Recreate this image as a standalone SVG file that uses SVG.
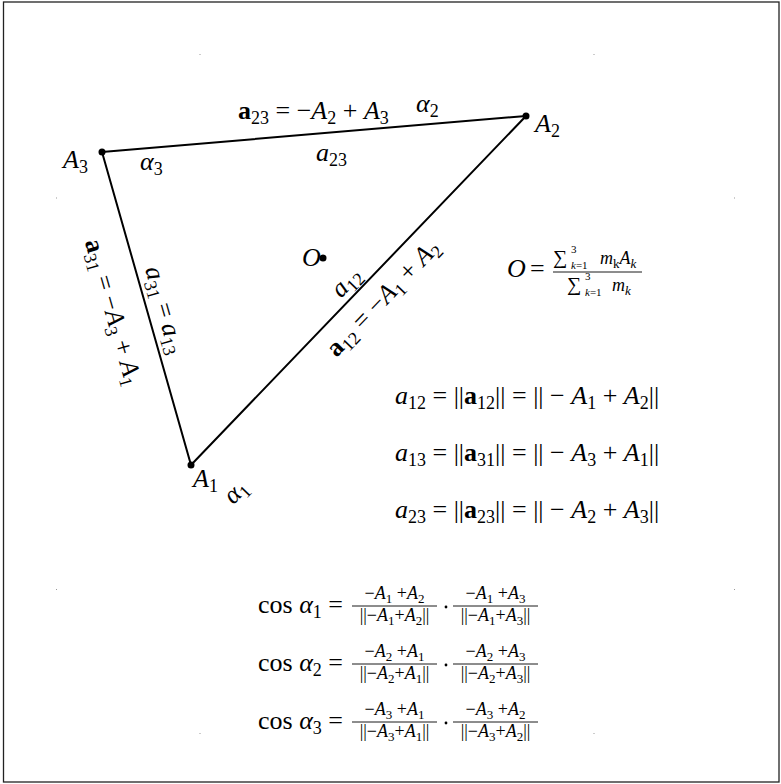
<svg xmlns="http://www.w3.org/2000/svg" width="781" height="784" viewBox="0 0 781 784">
<style>
text{font-family:"Liberation Serif","Times New Roman",serif;fill:#000;white-space:pre}
.m{font-size:26px}
.f{font-size:18px}
.i{font-style:italic}
.b{font-weight:bold}
.n{font-style:normal;font-weight:normal}
.edge{stroke:#000;stroke-width:2;fill:none;stroke-linecap:round}
.bar{stroke:#000;stroke-width:0.9}
.tick{fill:#999}
</style>
<rect x="3.5" y="2" width="775.5" height="780" fill="#fff" stroke="#222" stroke-width="1.3"/>
<g id="ticks" class="tick">
<rect x="199.5" y="54" width="1" height="1"/><rect x="593.5" y="54" width="1" height="1"/>
<rect x="56" y="197.5" width="1" height="1"/><rect x="734" y="197.5" width="1" height="1"/>
<rect x="56" y="589" width="1" height="1"/><rect x="734" y="589" width="1" height="1"/>
<rect x="199.5" y="733" width="1" height="1"/><rect x="593.5" y="733" width="1" height="1"/>
</g>
<g id="connectors">
<line class="edge" x1="102" y1="152" x2="526" y2="116"/>
<line class="edge" x1="526" y1="116" x2="191" y2="465"/>
<line class="edge" x1="191" y1="465" x2="102" y2="152"/>
<text class="m" x="238" y="119"><tspan class="b">a</tspan><tspan font-size="18" dy="5">23</tspan><tspan dy="-5"> = −</tspan><tspan class="i">A</tspan><tspan font-size="18" dy="5">2</tspan><tspan dy="-5"> + </tspan><tspan class="i">A</tspan><tspan font-size="18" dy="5">3</tspan></text>
<text class="m" x="316" y="161"><tspan class="i">a</tspan><tspan font-size="18" dy="5">23</tspan></text>
<text class="m" text-anchor="middle" transform="translate(113,312) rotate(74.1)" y="8"><tspan class="b">a</tspan><tspan font-size="18" dy="5">31</tspan><tspan dy="-5"> = −</tspan><tspan class="i">A</tspan><tspan font-size="18" dy="5">3</tspan><tspan dy="-5"> + </tspan><tspan class="i">A</tspan><tspan font-size="18" dy="5">1</tspan></text>
<text class="m" text-anchor="middle" transform="translate(165,310) rotate(74.1)" y="8"><tspan class="i">a</tspan><tspan font-size="18" dy="5">31</tspan><tspan dy="-5"> = </tspan><tspan class="i">a</tspan><tspan font-size="18" dy="5">13</tspan></text>
<text class="m" text-anchor="middle" transform="translate(346,282) rotate(-46.2)" y="8"><tspan class="i">a</tspan><tspan font-size="18" dy="5">12</tspan></text>
<text class="m" text-anchor="middle" transform="translate(383,298) rotate(-46.2)" y="8"><tspan class="b">a</tspan><tspan font-size="18" dy="5">12</tspan><tspan dy="-5"> = −</tspan><tspan class="i">A</tspan><tspan font-size="18" dy="5">1</tspan><tspan dy="-5"> + </tspan><tspan class="i">A</tspan><tspan font-size="18" dy="5">2</tspan></text>
</g>
<g id="A3">
<circle cx="102" cy="152" r="3.5"/>
<text class="m i" x="63" y="168">A<tspan class="n" font-size="18" dy="5">3</tspan></text>
<text class="m i" x="140" y="170">α<tspan class="n" font-size="18" dy="5">3</tspan></text>
</g>
<g id="A2">
<circle cx="526" cy="116" r="3.5"/>
<text class="m i" x="535" y="132">A<tspan class="n" font-size="18" dy="5">2</tspan></text>
<text class="m i" x="416" y="112">α<tspan class="n" font-size="18" dy="5">2</tspan></text>
</g>
<g id="A1">
<circle cx="191" cy="465" r="3.5"/>
<text class="m i" x="193" y="487">A<tspan class="n" font-size="18" dy="5">1</tspan></text>
<text class="m i" text-anchor="middle" transform="translate(237,493) rotate(-46.2)" y="6">α<tspan class="n" font-size="18" dy="5">1</tspan></text>
</g>
<g id="O">
<circle cx="323" cy="258" r="3.5"/>
<text class="m i" x="302" y="266">O</text>
</g>
<g id="formula-O">
<text class="m i" x="507" y="277">O</text>
<text class="m" x="530" y="277">=</text>
<text x="553" y="264" font-size="20">∑</text>
<text x="571" y="253" font-size="11">3</text>
<text x="571" y="269" font-size="11"><tspan class="i">k</tspan>=1</text>
<text class="f i" x="600" y="264">m<tspan class="n" font-size="13" dy="4">k</tspan><tspan dy="-4">A</tspan><tspan font-size="13" dy="4">k</tspan></text>
<line class="bar" x1="553" y1="272" x2="642" y2="272"/>
<text x="567" y="291" font-size="20">∑</text>
<text x="585" y="280" font-size="11">3</text>
<text x="585" y="296" font-size="11"><tspan class="i">k</tspan>=1</text>
<text class="f i" x="612" y="291">m<tspan font-size="13" dy="4">k</tspan></text>
</g>
<g id="norms">
<text class="m" x="395" y="404"><tspan class="i">a</tspan><tspan font-size="18" dy="5">12</tspan><tspan dy="-5"> = ||</tspan><tspan class="b">a</tspan><tspan font-size="18" dy="5">12</tspan><tspan dy="-5">|| = || − </tspan><tspan class="i">A</tspan><tspan font-size="18" dy="5">1</tspan><tspan dy="-5"> + </tspan><tspan class="i">A</tspan><tspan font-size="18" dy="5">2</tspan><tspan dy="-5">||</tspan></text>
<text class="m" x="395" y="461"><tspan class="i">a</tspan><tspan font-size="18" dy="5">13</tspan><tspan dy="-5"> = ||</tspan><tspan class="b">a</tspan><tspan font-size="18" dy="5">31</tspan><tspan dy="-5">|| = || − </tspan><tspan class="i">A</tspan><tspan font-size="18" dy="5">3</tspan><tspan dy="-5"> + </tspan><tspan class="i">A</tspan><tspan font-size="18" dy="5">1</tspan><tspan dy="-5">||</tspan></text>
<text class="m" x="395" y="518"><tspan class="i">a</tspan><tspan font-size="18" dy="5">23</tspan><tspan dy="-5"> = ||</tspan><tspan class="b">a</tspan><tspan font-size="18" dy="5">23</tspan><tspan dy="-5">|| = || − </tspan><tspan class="i">A</tspan><tspan font-size="18" dy="5">2</tspan><tspan dy="-5"> + </tspan><tspan class="i">A</tspan><tspan font-size="18" dy="5">3</tspan><tspan dy="-5">||</tspan></text>
</g>
<g id="cos1">
<text class="m" x="258" y="613">cos <tspan class="i">α</tspan><tspan font-size="18" dy="5">1</tspan><tspan dy="-5"> =</tspan></text>
<text class="f" text-anchor="middle" x="394.5" y="599">−<tspan class="i">A</tspan><tspan font-size="13" dy="4">1</tspan><tspan dy="-4"> +</tspan><tspan class="i">A</tspan><tspan font-size="13" dy="4">2</tspan></text>
<line class="bar" x1="352" y1="606" x2="437" y2="606"/>
<text class="f" text-anchor="middle" x="394.5" y="621">||−<tspan class="i">A</tspan><tspan font-size="13" dy="4">1</tspan><tspan dy="-4">+</tspan><tspan class="i">A</tspan><tspan font-size="13" dy="4">2</tspan><tspan dy="-4">||</tspan></text>
<circle cx="446" cy="607" r="1.4"/>
<text class="f" text-anchor="middle" x="495.5" y="599">−<tspan class="i">A</tspan><tspan font-size="13" dy="4">1</tspan><tspan dy="-4"> +</tspan><tspan class="i">A</tspan><tspan font-size="13" dy="4">3</tspan></text>
<line class="bar" x1="453" y1="606" x2="538" y2="606"/>
<text class="f" text-anchor="middle" x="495.5" y="621">||−<tspan class="i">A</tspan><tspan font-size="13" dy="4">1</tspan><tspan dy="-4">+</tspan><tspan class="i">A</tspan><tspan font-size="13" dy="4">3</tspan><tspan dy="-4">||</tspan></text>
</g>
<g id="cos2">
<text class="m" x="258" y="671">cos <tspan class="i">α</tspan><tspan font-size="18" dy="5">2</tspan><tspan dy="-5"> =</tspan></text>
<text class="f" text-anchor="middle" x="394.5" y="657">−<tspan class="i">A</tspan><tspan font-size="13" dy="4">2</tspan><tspan dy="-4"> +</tspan><tspan class="i">A</tspan><tspan font-size="13" dy="4">1</tspan></text>
<line class="bar" x1="352" y1="664" x2="437" y2="664"/>
<text class="f" text-anchor="middle" x="394.5" y="679">||−<tspan class="i">A</tspan><tspan font-size="13" dy="4">2</tspan><tspan dy="-4">+</tspan><tspan class="i">A</tspan><tspan font-size="13" dy="4">1</tspan><tspan dy="-4">||</tspan></text>
<circle cx="446" cy="665" r="1.4"/>
<text class="f" text-anchor="middle" x="495.5" y="657">−<tspan class="i">A</tspan><tspan font-size="13" dy="4">2</tspan><tspan dy="-4"> +</tspan><tspan class="i">A</tspan><tspan font-size="13" dy="4">3</tspan></text>
<line class="bar" x1="453" y1="664" x2="538" y2="664"/>
<text class="f" text-anchor="middle" x="495.5" y="679">||−<tspan class="i">A</tspan><tspan font-size="13" dy="4">2</tspan><tspan dy="-4">+</tspan><tspan class="i">A</tspan><tspan font-size="13" dy="4">3</tspan><tspan dy="-4">||</tspan></text>
</g>
<g id="cos3">
<text class="m" x="258" y="729">cos <tspan class="i">α</tspan><tspan font-size="18" dy="5">3</tspan><tspan dy="-5"> =</tspan></text>
<text class="f" text-anchor="middle" x="394.5" y="715">−<tspan class="i">A</tspan><tspan font-size="13" dy="4">3</tspan><tspan dy="-4"> +</tspan><tspan class="i">A</tspan><tspan font-size="13" dy="4">1</tspan></text>
<line class="bar" x1="352" y1="722" x2="437" y2="722"/>
<text class="f" text-anchor="middle" x="394.5" y="737">||−<tspan class="i">A</tspan><tspan font-size="13" dy="4">3</tspan><tspan dy="-4">+</tspan><tspan class="i">A</tspan><tspan font-size="13" dy="4">1</tspan><tspan dy="-4">||</tspan></text>
<circle cx="446" cy="723" r="1.4"/>
<text class="f" text-anchor="middle" x="495.5" y="715">−<tspan class="i">A</tspan><tspan font-size="13" dy="4">3</tspan><tspan dy="-4"> +</tspan><tspan class="i">A</tspan><tspan font-size="13" dy="4">2</tspan></text>
<line class="bar" x1="453" y1="722" x2="538" y2="722"/>
<text class="f" text-anchor="middle" x="495.5" y="737">||−<tspan class="i">A</tspan><tspan font-size="13" dy="4">3</tspan><tspan dy="-4">+</tspan><tspan class="i">A</tspan><tspan font-size="13" dy="4">2</tspan><tspan dy="-4">||</tspan></text>
</g>
</svg>
